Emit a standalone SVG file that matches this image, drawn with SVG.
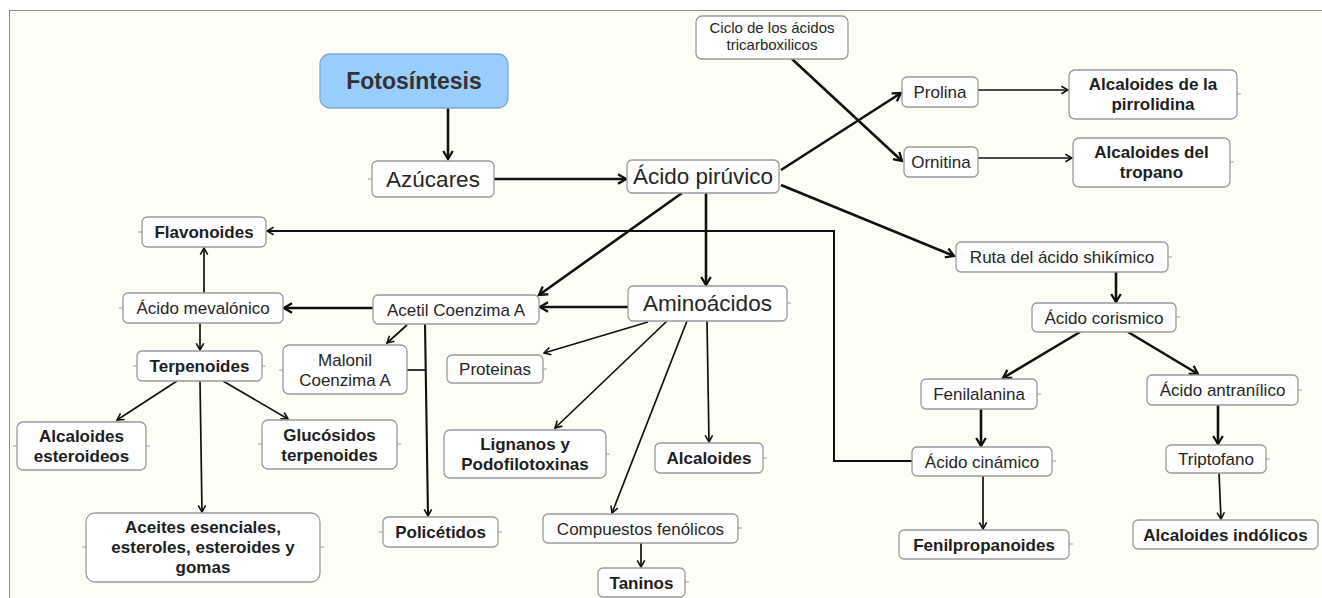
<svg xmlns="http://www.w3.org/2000/svg" width="1322" height="598" viewBox="0 0 1322 598">
<defs>
<style>
.bx{fill:#ffffff;stroke:#9a9a9a;stroke-width:1.3}
.t{font-family:"Liberation Sans",Arial,sans-serif;font-size:17px;fill:#262626;text-anchor:middle}
.b{font-weight:bold;fill:#1e1e1e}
.big{font-size:22.5px}
.sm{font-size:15px}
.k{fill:none;stroke:#111;stroke-width:2.6}
.n{fill:none;stroke:#111;stroke-width:1.7}
.stub{stroke:#a0a0a0;stroke-width:1}
</style>
<marker id="ak" viewBox="0 0 12 12" refX="10" refY="6" markerWidth="12" markerHeight="12" markerUnits="userSpaceOnUse" orient="auto"><path d="M2,1.2 L10,6 L2,10.8" fill="none" stroke="#111" stroke-width="2.3"/></marker>
<marker id="an" viewBox="0 0 10 10" refX="8.6" refY="5" markerWidth="10" markerHeight="10" markerUnits="userSpaceOnUse" orient="auto"><path d="M2,1.3 L8.6,5 L2,8.7" fill="none" stroke="#111" stroke-width="1.6"/></marker>
</defs>
<rect x="0" y="0" width="1322" height="598" fill="#ffffff"/>
<rect x="9.5" y="10.5" width="1320" height="600" fill="#fffef6" stroke="#8a8a8a" stroke-width="1"/>

<g id="connectors">
<path class="k" d="M448,108 L448,159" marker-end="url(#ak)"/>
<path class="k" d="M494,179 L626,179" marker-end="url(#ak)"/>
<path class="k" d="M781,170 L901,93" marker-end="url(#ak)"/>
<path class="k" d="M792,59 L902,161" marker-end="url(#ak)"/>
<path class="k" d="M781,185 L954,256" marker-end="url(#ak)"/>
<path class="k" d="M682,193 L539,295" marker-end="url(#ak)"/>
<path class="k" d="M706,193 L706,285" marker-end="url(#ak)"/>
<path class="k" d="M628,307 L540,307" marker-end="url(#ak)"/>
<path class="k" d="M373,308 L284,308" marker-end="url(#ak)"/>
<path class="k" d="M1116,272 L1116,302" marker-end="url(#ak)"/>
<path class="k" d="M1080,332 L1003,378" marker-end="url(#ak)"/>
<path class="k" d="M1128,332 L1198,374" marker-end="url(#ak)"/>
<path class="k" d="M981,409 L981,446" marker-end="url(#ak)"/>
<path class="k" d="M1218,405 L1218,444" marker-end="url(#ak)"/>
<path class="n" style="stroke-width:2.1" d="M425,324 L428,516" marker-end="url(#an)"/>
<path class="n" d="M407,370 L426,370"/>
<path class="n" d="M978,90 L1068,90" marker-end="url(#an)"/>
<path class="n" d="M978,158 L1072,158" marker-end="url(#an)"/>
<path class="n" style="stroke-width:2" d="M912,461 L834,461 L834,231 L267,231" marker-end="url(#an)"/>
<path class="n" d="M204,293 L204,248" marker-end="url(#an)"/>
<path class="n" d="M200,323 L200,350" marker-end="url(#an)"/>
<path class="n" d="M177,381 L117,420" marker-end="url(#an)"/>
<path class="n" d="M223,381 L288,419" marker-end="url(#an)"/>
<path class="n" d="M200,381 L202,512" marker-end="url(#an)"/>
<path class="n" d="M407,325 L387,343" marker-end="url(#an)"/>
<path class="n" d="M648,322 L544,353" marker-end="url(#an)"/>
<path class="n" d="M667,321 L555,428" marker-end="url(#an)"/>
<path class="n" d="M687,321 L612,513" marker-end="url(#an)"/>
<path class="n" d="M707,321 L709,442" marker-end="url(#an)"/>
<path class="n" d="M641,543 L641,567" marker-end="url(#an)"/>
<path class="n" d="M983,476 L983,529" marker-end="url(#an)"/>
<path class="n" d="M1219,473 L1221,519" marker-end="url(#an)"/>
</g>

<g id="fotosintesis"><rect x="320" y="54" width="188" height="54" rx="10" fill="#99ccff" stroke="#7fa9d4" stroke-width="1.3"/><text class="t b" x="414" y="89" style="font-size:23px;fill:#333">Fotosíntesis</text></g>
<g id="azucares"><rect class="bx" x="372" y="161" width="122" height="36" rx="5"/><line class="stub" x1="368" y1="179" x2="372" y2="179"/><text class="t big" x="433" y="187">Azúcares</text></g>
<g id="piruvico"><rect class="bx" x="627" y="160" width="152" height="33" rx="5"/><text class="t big" x="703" y="184">Ácido pirúvico</text></g>
<g id="ciclo"><rect class="bx" x="696" y="16" width="152" height="43" rx="6"/><text class="t sm" x="772" y="33">Ciclo de los ácidos</text><text class="t sm" x="772" y="50">tricarboxilicos</text></g>
<g id="prolina"><rect class="bx" x="902" y="77" width="76" height="30" rx="5"/><text class="t" x="940" y="98">Prolina</text></g>
<g id="ornitina"><rect class="bx" x="904" y="147" width="74" height="30" rx="5"/><text class="t" x="941" y="168">Ornitina</text></g>
<g id="pirrolidina"><rect class="bx" x="1069" y="70" width="168" height="49" rx="6"/><line class="stub" x1="1237" y1="94" x2="1241" y2="94"/><text class="t b" x="1153" y="90">Alcaloides de la</text><text class="t b" x="1153" y="110">pirrolidina</text></g>
<g id="tropano"><rect class="bx" x="1073" y="138" width="157" height="49" rx="6"/><line class="stub" x1="1230" y1="162" x2="1234" y2="162"/><text class="t b" x="1151.5" y="158">Alcaloides del</text><text class="t b" x="1151.5" y="178">tropano</text></g>
<g id="ruta"><rect class="bx" x="956" y="242" width="212" height="30" rx="5"/><line class="stub" x1="1168" y1="257" x2="1172" y2="257"/><text class="t" x="1062" y="263">Ruta del ácido shikímico</text></g>
<g id="flavonoides"><rect class="bx" x="142" y="217" width="124" height="30" rx="5"/><line class="stub" x1="138" y1="232" x2="142" y2="232"/><text class="t b" x="204" y="238">Flavonoides</text></g>
<g id="mevalonico"><rect class="bx" x="123" y="293" width="160" height="30" rx="5"/><line class="stub" x1="119" y1="308" x2="123" y2="308"/><text class="t" x="203" y="314">Ácido mevalónico</text></g>
<g id="acetil"><rect class="bx" x="373" y="295" width="166" height="29" rx="5"/><text class="t" x="456" y="316">Acetil Coenzima A</text></g>
<g id="aminoacidos"><rect class="bx" x="628" y="286" width="159" height="35" rx="5"/><line class="stub" x1="787" y1="303" x2="791" y2="303"/><text class="t big" x="707.5" y="311">Aminoácidos</text></g>
<g id="terpenoides"><rect class="bx" x="137" y="351" width="125" height="30" rx="5"/><line class="stub" x1="133" y1="366" x2="137" y2="366"/><line class="stub" x1="262" y1="366" x2="266" y2="366"/><text class="t b" x="199.5" y="372">Terpenoides</text></g>
<g id="malonil"><rect class="bx" x="283" y="345" width="124" height="49" rx="6"/><line class="stub" x1="279" y1="370" x2="283" y2="370"/><text class="t" x="345" y="366">Malonil</text><text class="t" x="345" y="386">Coenzima A</text></g>
<g id="proteinas"><rect class="bx" x="447" y="355" width="96" height="28" rx="5"/><line class="stub" x1="543" y1="369" x2="547" y2="369"/><text class="t" x="495" y="375">Proteinas</text></g>
<g id="alcaloides-esteroideos"><rect class="bx" x="17" y="422" width="129" height="48" rx="6"/><line class="stub" x1="13" y1="446" x2="17" y2="446"/><line class="stub" x1="146" y1="446" x2="150" y2="446"/><text class="t b" x="81.5" y="442">Alcaloides</text><text class="t b" x="81.5" y="462">esteroideos</text></g>
<g id="glucosidos"><rect class="bx" x="262" y="420" width="135" height="49" rx="6"/><line class="stub" x1="258" y1="444" x2="262" y2="444"/><line class="stub" x1="397" y1="444" x2="401" y2="444"/><text class="t b" x="329.5" y="441">Glucósidos</text><text class="t b" x="329.5" y="461">terpenoides</text></g>
<g id="lignanos"><rect class="bx" x="444" y="430" width="162" height="48" rx="6"/><line class="stub" x1="606" y1="454" x2="610" y2="454"/><text class="t b" x="525" y="450">Lignanos y</text><text class="t b" x="525" y="470">Podofilotoxinas</text></g>
<g id="alcaloides"><rect class="bx" x="655" y="443" width="108" height="30" rx="5"/><line class="stub" x1="763" y1="458" x2="767" y2="458"/><text class="t b" x="709" y="464">Alcaloides</text></g>
<g id="aceites"><rect class="bx" x="86" y="513" width="234" height="69" rx="9"/><line class="stub" x1="82" y1="547" x2="86" y2="547"/><line class="stub" x1="320" y1="547" x2="324" y2="547"/><text class="t b" x="203" y="533">Aceites esenciales,</text><text class="t b" x="203" y="553">esteroles, esteroides y</text><text class="t b" x="203" y="573">gomas</text></g>
<g id="policetidos"><rect class="bx" x="383" y="517" width="115" height="30" rx="5"/><line class="stub" x1="379" y1="532" x2="383" y2="532"/><line class="stub" x1="498" y1="532" x2="502" y2="532"/><text class="t b" x="440.5" y="538">Policétidos</text></g>
<g id="compuestos"><rect class="bx" x="543" y="514" width="195" height="29" rx="5"/><line class="stub" x1="738" y1="528" x2="742" y2="528"/><text class="t" x="640.5" y="535">Compuestos fenólicos</text></g>
<g id="taninos"><rect class="bx" x="598" y="568" width="87" height="29" rx="5"/><line class="stub" x1="685" y1="582" x2="689" y2="582"/><text class="t b" x="641.5" y="589">Taninos</text></g>
<g id="corismico"><rect class="bx" x="1032" y="303" width="144" height="29" rx="5"/><line class="stub" x1="1176" y1="317" x2="1180" y2="317"/><text class="t" x="1104" y="324">Ácido corismico</text></g>
<g id="fenilalanina"><rect class="bx" x="921" y="379" width="116" height="30" rx="5"/><line class="stub" x1="1037" y1="394" x2="1041" y2="394"/><text class="t" x="979" y="400">Fenilalanina</text></g>
<g id="antranilico"><rect class="bx" x="1147" y="375" width="151" height="30" rx="5"/><line class="stub" x1="1298" y1="390" x2="1302" y2="390"/><text class="t" x="1222.5" y="396">Ácido antranílico</text></g>
<g id="cinamico"><rect class="bx" x="912" y="447" width="140" height="29" rx="5"/><line class="stub" x1="1052" y1="461" x2="1056" y2="461"/><text class="t" x="982" y="468">Ácido cinámico</text></g>
<g id="triptofano"><rect class="bx" x="1166" y="445" width="100" height="28" rx="5"/><line class="stub" x1="1266" y1="459" x2="1270" y2="459"/><text class="t" x="1216" y="465">Triptofano</text></g>
<g id="fenilpropanoides"><rect class="bx" x="899" y="530" width="170" height="29" rx="5"/><line class="stub" x1="1069" y1="544" x2="1073" y2="544"/><text class="t b" x="984" y="551">Fenilpropanoides</text></g>
<g id="indolicos"><rect class="bx" x="1133" y="520" width="185" height="29" rx="5"/><text class="t b" x="1225.5" y="541">Alcaloides indólicos</text></g>
</svg>
